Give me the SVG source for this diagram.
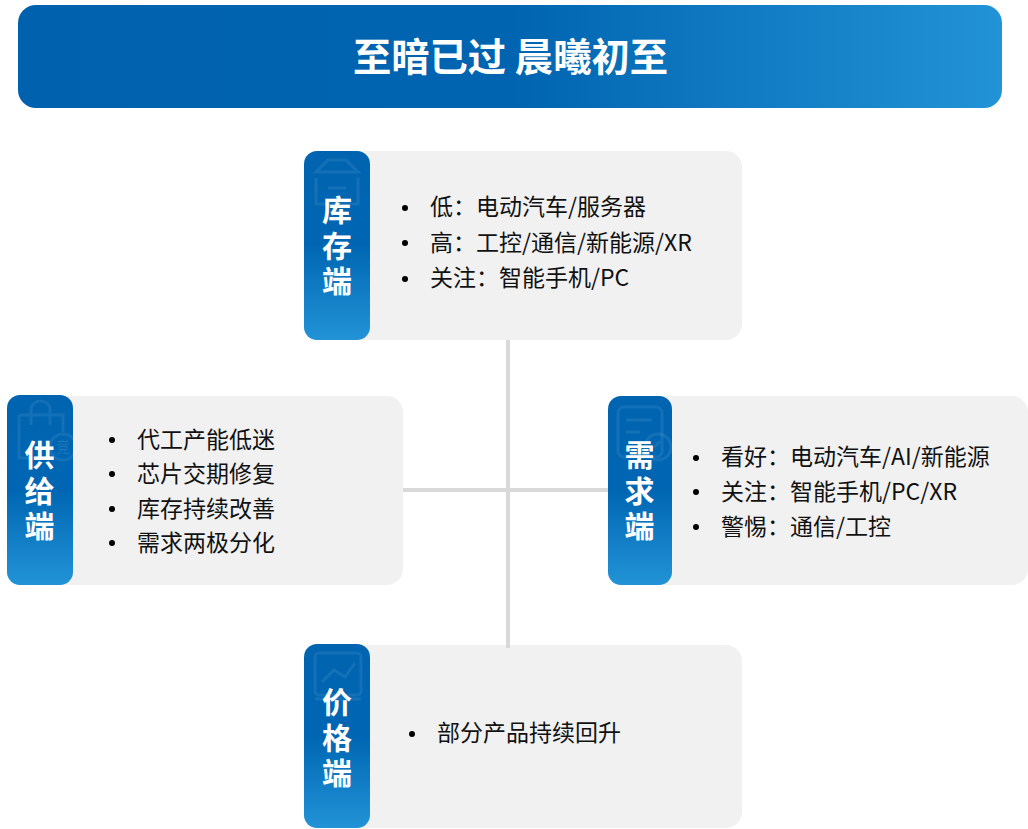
<svg xmlns="http://www.w3.org/2000/svg" width="1028" height="829" viewBox="0 0 1028 829">
<defs>
<linearGradient id="hg" x1="0" x2="1" y1="0" y2="0"><stop offset="0" stop-color="#0062ae"/><stop offset="0.5" stop-color="#0064b0"/><stop offset="1" stop-color="#2293d6"/></linearGradient>
<linearGradient id="tg" x1="0" x2="0" y1="0" y2="1"><stop offset="0" stop-color="#0064b0"/><stop offset="0.5" stop-color="#0066b3"/><stop offset="1" stop-color="#2293d6"/></linearGradient>
</defs>
<style>
text{font-family:"Noto Sans CJK SC","Noto Sans",sans-serif}
.card{fill:#f1f1f1}
.tab{fill:url(#tg)}
.tt{fill:#fff;font-size:30px;font-weight:700;writing-mode:vertical-rl;letter-spacing:5.5px}
.b{fill:#111;font-size:23px}
.d{fill:#000}
.ic{fill:none;stroke:#fff;stroke-opacity:.08;stroke-width:3}
.ln{stroke:#d9d9d9;stroke-width:4;fill:none}
</style>
<rect width="1028" height="829" fill="#fff"/>
<g id="title">
<rect x="18" y="5" width="984" height="103" rx="18" fill="url(#hg)"/>
<text x="510.500" y="71" fill="#fff" font-size="38.300" font-weight="700" text-anchor="middle">至暗已过 晨曦初至</text>
</g>
<g id="node-inventory">
<rect class="card" x="304" y="151" width="438" height="189" rx="16"/>
<rect class="tab" x="304" y="151" width="66" height="189" rx="13"/>
<path class="ic" d="M316 172L328 160H346L358 172ZM316 178V204H358V178M328 188H346"/>
<text class="tt" x="337" y="195">库存端</text>
<circle class="d" cx="405" cy="208" r="3"/><circle class="d" cx="405" cy="243" r="3"/><circle class="d" cx="405" cy="279" r="3"/>
<text class="b" x="430" y="215">低：电动汽车/服务器</text>
<text class="b" x="430" y="251">高：工控/通信/新能源/XR</text>
<text class="b" x="430" y="286">关注：智能手机/PC</text>
</g>
<g id="node-supply">
<rect class="card" x="7" y="396" width="396" height="189" rx="16"/>
<rect class="tab" x="7" y="395" width="66" height="190" rx="13"/>
<path class="ic" d="M19 415H63V432M19 415V458H50M31 425V408A10 10 0 0 1 50 408V425"/>
<circle class="ic" cx="63" cy="447" r="13"/>
<text x="63" y="452" font-size="14" text-anchor="middle" fill="#fff" fill-opacity=".12">竞</text>
<text class="tt" x="39.500" y="440">供给端</text>
<circle class="d" cx="112" cy="440" r="3"/><circle class="d" cx="112" cy="474" r="3"/><circle class="d" cx="112" cy="509" r="3"/><circle class="d" cx="112" cy="543" r="3"/>
<text class="b" x="137" y="448">代工产能低迷</text>
<text class="b" x="137" y="482">芯片交期修复</text>
<text class="b" x="137" y="517">库存持续改善</text>
<text class="b" x="137" y="551">需求两极分化</text>
</g>
<g id="node-demand">
<rect class="card" x="608" y="396" width="420" height="189" rx="16"/>
<rect class="tab" x="608" y="396" width="64" height="189" rx="13"/>
<rect class="ic" x="618" y="407" width="44" height="50" rx="6"/>
<path class="ic" d="M626 420H652M626 432H640M654 448L660 441"/>
<circle class="ic" cx="658" cy="447" r="13"/>
<text class="tt" x="639.500" y="440">需求端</text>
<circle class="d" cx="696" cy="458" r="3"/><circle class="d" cx="696" cy="492" r="3"/><circle class="d" cx="696" cy="527" r="3"/>
<text class="b" x="721" y="465">看好：电动汽车/AI/新能源</text>
<text class="b" x="721" y="500">关注：智能手机/PC/XR</text>
<text class="b" x="721" y="535">警惕：通信/工控</text>
</g>
<g id="node-price">
<rect class="card" x="304" y="645" width="438" height="183" rx="16"/>
<rect class="tab" x="304" y="644" width="66" height="184" rx="13"/>
<rect class="ic" x="315" y="653" width="46" height="42" rx="4"/>
<path class="ic" d="M322 682L334 670L345 677L355 663M315 699H361"/>
<text class="tt" x="337" y="687">价格端</text>
<circle class="d" cx="412" cy="734" r="3"/>
<text class="b" x="437" y="741">部分产品持续回升</text>
</g>
<g id="connectors">
<path class="ln" d="M508 340V648M403 490H608"/>
</g>
</svg>
